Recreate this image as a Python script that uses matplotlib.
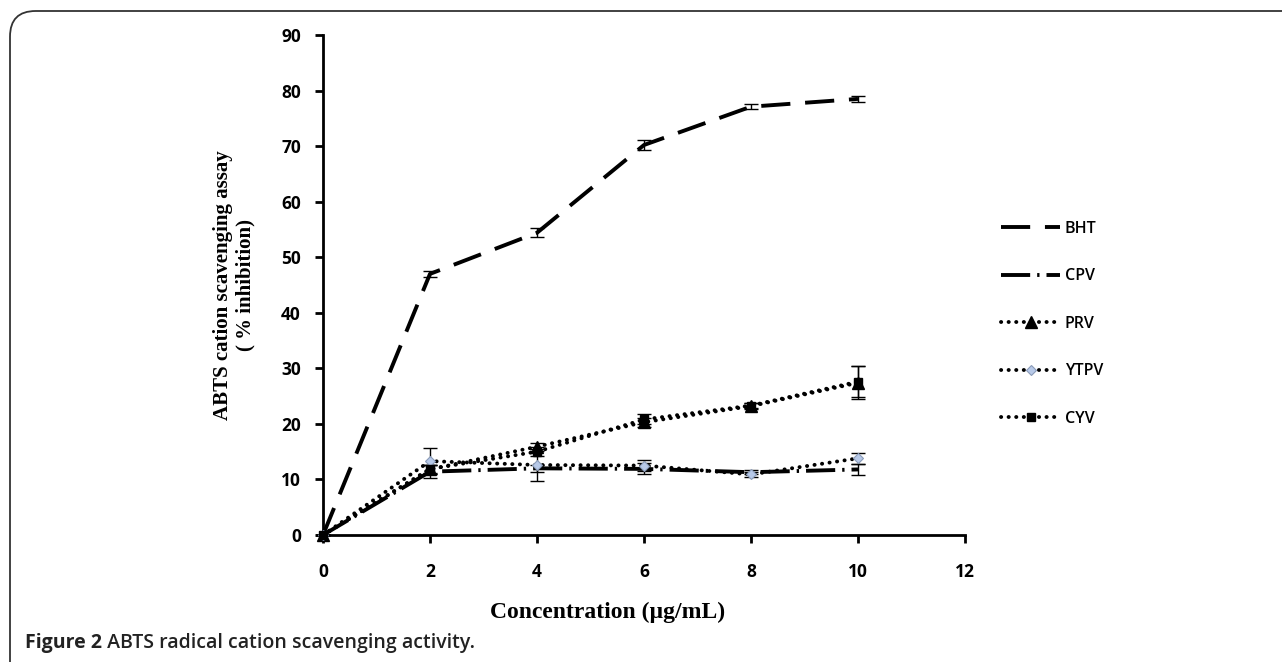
import matplotlib
matplotlib.use("Agg")
import matplotlib.pyplot as plt
from matplotlib.patches import FancyBboxPatch
import numpy as np

# ---- data ----
conc = [0, 2, 4, 6, 8, 10]
series_names = ["BHT", "CPV", "PRV", "YTPV", "CYV"]
bht = [0, 47.0, 54.4, 70.2, 77.1, 78.5]
bht_err = [0, 0.5, 0.8, 0.9, 0.4, 0.5]
cpv = [0, 11.4, 12.0, 11.9, 11.3, 11.8]
cpv_err = [0, 1.2, 0.6, 1.0, 0.4, 1.0]
prv = [0, 11.8, 15.9, 20.3, 23.2, 27.4]
prv_err = [0, 0.8, 0.7, 0.8, 0.6, 3.0]
ytpv = [0, 13.3, 12.6, 12.5, 10.9, 13.8]
ytpv_err = [0, 2.3, 2.8, 1.0, 0.4, 1.0]
cyv = [0, 11.9, 15.0, 20.8, 23.3, 27.6]
cyv_err = [0, 0.7, 0.8, 0.9, 0.5, 2.8]

x_ticks = [0, 2, 4, 6, 8, 10, 12]
y_ticks = [0, 10, 20, 30, 40, 50, 60, 70, 80, 90]
x_label = "Concentration (µg/mL)"
y_label = "ABTS cation scavenging assay\n( % inhibition)"
caption_bold = "Figure 2"
caption_rest = " ABTS radical cation scavenging activity."

W, H = 1282, 662
fig = plt.figure(figsize=(W / 100, H / 100), dpi=100)

# rounded frame (top-left corner visible)
frame = FancyBboxPatch((10 / W, -0.2), 1.5, 1 - 11 / H + 0.2,
                       boxstyle="round,pad=0,rounding_size=0.02",
                       transform=fig.transFigure, fill=False,
                       edgecolor="#333333", linewidth=1.3,
                       mutation_aspect=W / H)
fig.patches.append(frame)

ax = fig.add_axes([323 / W, 1 - 535 / H, (965 - 323) / W, (535 - 35) / H])
ax.set_xlim(0, 12)
ax.set_ylim(0, 90)
for s in ["top", "right"]:
    ax.spines[s].set_visible(False)
for s in ["left", "bottom"]:
    ax.spines[s].set_linewidth(2.0)
    ax.spines[s].set_color("black")
ax.set_xticks(x_ticks)
ax.set_yticks(y_ticks)
ax.tick_params(direction="out", length=6, width=2.0)
ax.tick_params(axis="x", pad=14)
ax.tick_params(axis="y", pad=10)
tick_font = dict(family="Open Sans", weight="bold", size=12.5)
ax.set_xticklabels([str(v) for v in x_ticks], fontdict=tick_font)
ax.set_yticklabels([str(v) for v in y_ticks], fontdict=tick_font)

lw = 2.8
err_kw = dict(fmt="none", ecolor="black", elinewidth=1.0, capsize=5,
              capthick=1.0, zorder=4, clip_on=False)

# BHT long dash
ax.plot(conc, bht, color="black", lw=lw, dashes=(7.5, 3.8),
        label="BHT", zorder=3, clip_on=False)
ax.errorbar(conc, bht, yerr=bht_err, **err_kw)

# CPV long dash-dot
ax.plot(conc, cpv, color="black", lw=lw, dashes=(7.5, 1.8, 0.6, 1.8),
        label="CPV", zorder=3, clip_on=False)
ax.errorbar(conc, cpv, yerr=cpv_err, **err_kw)

dot_style = dict(color="black", lw=2.8, dashes=(0.05, 1.9),
                 dash_capstyle="round", zorder=5, clip_on=False)

ax.plot(conc, prv, marker="^", markersize=8, markerfacecolor="black",
        markeredgecolor="black", label="PRV", **dot_style)
ax.errorbar(conc, prv, yerr=prv_err, **err_kw)

ax.plot(conc, ytpv, marker="D", markersize=5, markerfacecolor="#b7c9e8",
        markeredgecolor="#8a9bb8", markeredgewidth=0.8, label="YTPV", **dot_style)
ax.errorbar(conc, ytpv, yerr=ytpv_err, **err_kw)

ax.plot(conc, cyv, marker="s", markersize=6, markerfacecolor="black",
        markeredgecolor="black", label="CYV", **dot_style)
ax.errorbar(conc, cyv, yerr=cyv_err, **err_kw)

leg = ax.legend(loc="upper left", bbox_to_anchor=(1001 / W, 1 - 221 / H),
                bbox_transform=fig.transFigure, frameon=False,
                prop=dict(family="Open Sans", weight="semibold", size=11.5),
                handlelength=3.7, handletextpad=0.3, labelspacing=1.97,
                borderpad=0, borderaxespad=0, numpoints=1)

ax.set_xlabel(x_label, family="Liberation Serif", weight="bold", size=17)
ax.xaxis.set_label_coords((608 - 323) / 642, (535 - 612) / 500)
ax.xaxis.label.set_va("center")
ax.set_ylabel(y_label, family="Liberation Serif", weight="bold", size=15,
              labelpad=18, linespacing=1.2)

t1 = fig.text(25 / W, 1 - 648 / H, caption_bold, family="Open Sans",
              weight="bold", size=14, va="baseline", color="#222222")
fig.canvas.draw()
bb = t1.get_window_extent()
fig.text(bb.x1 / W, 1 - 648 / H, caption_rest, family="Open Sans",
         weight="semibold", size=14, va="baseline", color="#222222")

fig.savefig("out.png", dpi=100)
